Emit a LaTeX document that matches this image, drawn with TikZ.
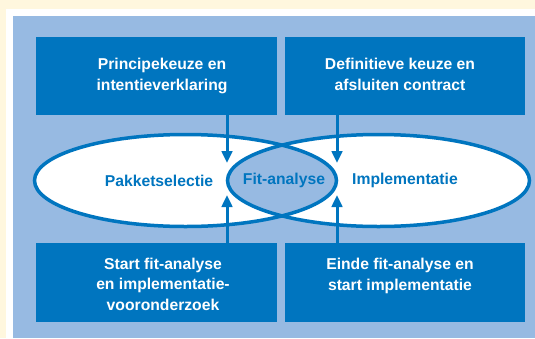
\documentclass[tikz,border=0pt]{standalone}
\usepackage{fontspec}
\setmainfont{Liberation Sans}
\usetikzlibrary{arrows.meta}
\definecolor{cream}{RGB}{255,247,222}
\definecolor{panel}{RGB}{151,186,226}
\definecolor{deepblue}{RGB}{0,117,191}
\tikzset{
  stage/.style={fill=deepblue, draw=none, inner sep=0pt},
  stagetext/.style={text=white, font=\fontsize{15.7}{20.5}\selectfont\bfseries, align=center, inner sep=0pt, anchor=base},
  phase/.style={text=deepblue, font=\fontsize{15.7}{20.5}\selectfont\bfseries, inner sep=0pt},
  ring/.style={draw=deepblue, line width=3.5pt},
  flow/.style={draw=deepblue, line width=3pt, -{Triangle[width=10.5pt,length=12pt]}}
}
\begin{document}
\begin{tikzpicture}[x=1pt, y=-1pt]
\useasboundingbox (0,0) rectangle (535,338);
% background layers
\fill[cream] (0,0) rectangle (535,338);
\fill[white] (6,9) rectangle (535,338);
\fill[panel] (13,16) rectangle (535,338);

% stage boxes
\node[stage, minimum width=241pt, minimum height=78pt] (tl) at (156.5,76) {};
\node[stage, minimum width=240pt, minimum height=78pt] (tr) at (405,76) {};
\node[stage, minimum width=241pt, minimum height=79pt] (bl) at (156.5,282.5) {};
\node[stage, minimum width=240pt, minimum height=79pt] (br) at (405,282.5) {};

% captions: anchored on the baseline of their last line
\node[stagetext] (tlt) at (162,90) {Principekeuze en\\intentieverklaring};
\node[stagetext] (trt) at (400,90) {Definitieve keuze en\\afsluiten contract};
\node[stagetext] (blt) at (163,310) {Start fit-analyse\\en implementatie-\\vooronderzoek};
\node[stagetext] (brt) at (400,290) {Einde fit-analyse en\\start implementatie};

% overlapping phases
\coordinate (lc) at (185.5,180.5);
\coordinate (rc) at (378.5,180.5);
\fill[white] (lc) ellipse [x radius=151, y radius=46];
\fill[white] (rc) ellipse [x radius=151, y radius=46];
\begin{scope}
  \clip (lc) ellipse [x radius=151, y radius=46];
  \fill[panel] (rc) ellipse [x radius=151, y radius=46];
\end{scope}
\draw[ring] (lc) ellipse [x radius=151, y radius=46];
\draw[ring] (rc) ellipse [x radius=151, y radius=46];

\node[phase] (pk) at (159,180.5) {Pakketselectie};
\node[phase] (fa) at (284,180.5) {Fit-analyse};
\node[phase] (im) at (405,180.5) {Implementatie};

% transitions
\coordinate (a1) at (227,163);
\coordinate (a2) at (337,163);
\coordinate (a3) at (227,195);
\coordinate (a4) at (337,195);
\draw[flow] (tl.south -| a1) -- (a1);
\draw[flow] (tr.south -| a2) -- (a2);
\draw[flow] (bl.north -| a3) -- (a3);
\draw[flow] (br.north -| a4) -- (a4);
\end{tikzpicture}
\end{document}
